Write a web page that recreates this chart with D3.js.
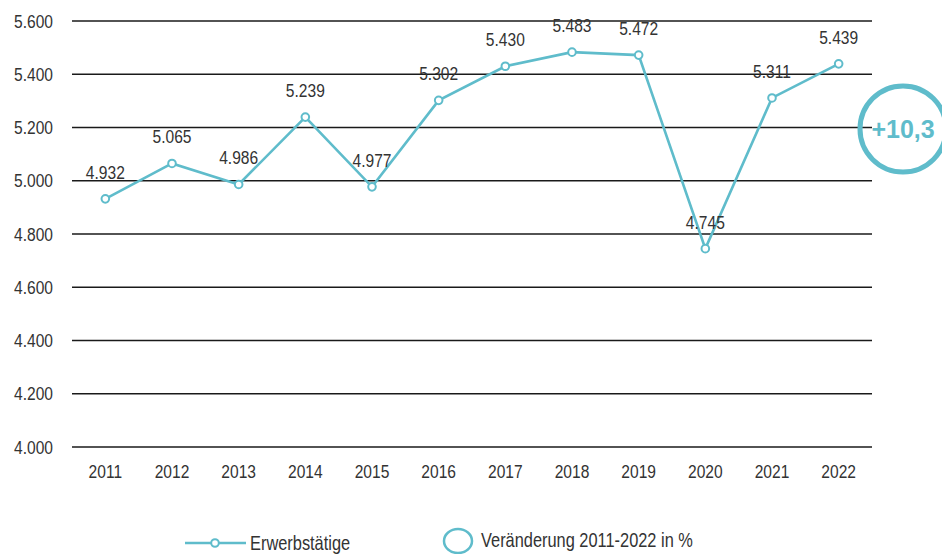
<!DOCTYPE html>
<html>
<head>
<meta charset="utf-8">
<script src="https://cdn.jsdelivr.net/npm/d3@7"></script>
<style>
  body { margin: 0; background: #fff; }
  svg { display: block; font-family: "Liberation Sans", Arial, sans-serif; }
</style>
</head>
<body>
<svg id="chart" width="942" height="554"></svg>
<script>
// Data
const years = ["2011", "2012", "2013", "2014", "2015", "2016", "2017", "2018", "2019", "2020", "2021", "2022"];
const employed = [4932, 5065, 4986, 5239, 4977, 5302, 5430, 5483, 5472, 4745, 5311, 5439];
const yTicks = [4000, 4200, 4400, 4600, 4800, 5000, 5200, 5400, 5600];
const changeLabel = "+10,3";
const legendLabels = ["Erwerbstätige", "Veränderung 2011-2022 in %"];

const TEAL = "#5fbccb";
const NARROW = 0.82; // squeeze to imitate Arial Narrow
const svg = d3.select("#chart");
const margin = { top: 21, right: 70, bottom: 107, left: 72 };
const width = 942 - margin.left - margin.right;
const height = 554 - margin.top - margin.bottom;

const fmt = d3.formatLocale({ decimal: ",", thousands: ".", grouping: [3], currency: ["", "€"] }).format(",d");

const x = d3.scaleBand().domain(years).range([margin.left, margin.left + width]);
const y = d3.scaleLinear().domain([4000, 5600]).range([margin.top + height, margin.top]);
const cx = d => x(d) + x.bandwidth() / 2;

// place a narrow text at (px, py)
const at = (px, py) => `translate(${px},${py}) scale(${NARROW},1)`;

// Gridlines + y labels
const grid = svg.append("g");
grid.selectAll("line")
  .data(yTicks)
  .join("line")
  .attr("x1", margin.left)
  .attr("x2", margin.left + width)
  .attr("y1", d => y(d))
  .attr("y2", d => y(d))
  .attr("stroke", "#1a1a1a")
  .attr("stroke-width", 1.3);

grid.selectAll("text")
  .data(yTicks)
  .join("text")
  .attr("transform", d => at(53, y(d)))
  .attr("dy", "0.35em")
  .attr("text-anchor", "end")
  .attr("font-size", 19)
  .attr("fill", "#333")
  .text(d => fmt(d));

// X labels
svg.append("g").selectAll("text")
  .data(years)
  .join("text")
  .attr("transform", d => at(cx(d), margin.top + height + 31))
  .attr("text-anchor", "middle")
  .attr("font-size", 19)
  .attr("fill", "#333")
  .text(d => d);

// Line
const pts = years.map((yr, i) => ({ yr, v: employed[i] }));
const line = d3.line().x(d => cx(d.yr)).y(d => y(d.v));

svg.append("path")
  .datum(pts)
  .attr("d", line)
  .attr("fill", "none")
  .attr("stroke", TEAL)
  .attr("stroke-width", 2.6);

svg.append("g").selectAll("circle")
  .data(pts)
  .join("circle")
  .attr("cx", d => cx(d.yr))
  .attr("cy", d => y(d.v))
  .attr("r", 3.8)
  .attr("fill", "#fff")
  .attr("stroke", TEAL)
  .attr("stroke-width", 2);

// Value labels
svg.append("g").selectAll("text")
  .data(pts)
  .join("text")
  .attr("transform", d => at(cx(d.yr), y(d.v) - 20))
  .attr("text-anchor", "middle")
  .attr("font-size", 19)
  .attr("fill", "#333")
  .text(d => fmt(d.v));

// Change bubble
const bubble = svg.append("g").attr("transform", "translate(903,129)");
bubble.append("circle")
  .attr("r", 43)
  .attr("fill", "none")
  .attr("stroke", TEAL)
  .attr("stroke-width", 5);
bubble.append("text")
  .attr("x", 0)
  .attr("dy", "0.35em")
  .attr("text-anchor", "middle")
  .attr("font-size", 25)
  .attr("font-weight", "bold")
  .attr("fill", TEAL)
  .text(changeLabel);

// Legend
const leg = svg.append("g");
leg.append("line")
  .attr("x1", 185).attr("x2", 246)
  .attr("y1", 543).attr("y2", 543)
  .attr("stroke", TEAL).attr("stroke-width", 2.6);
leg.append("circle")
  .attr("cx", 215).attr("cy", 543).attr("r", 3.8)
  .attr("fill", "#fff").attr("stroke", TEAL).attr("stroke-width", 2);
leg.append("text")
  .attr("transform", at(250, 543))
  .attr("dy", "0.35em")
  .attr("font-size", 20).attr("fill", "#333")
  .text(legendLabels[0]);

leg.append("ellipse")
  .attr("cx", 458).attr("cy", 541).attr("rx", 14).attr("ry", 12)
  .attr("fill", "none").attr("stroke", TEAL).attr("stroke-width", 2.5);
leg.append("text")
  .attr("transform", at(481, 540))
  .attr("dy", "0.35em")
  .attr("font-size", 20).attr("fill", "#333")
  .text(legendLabels[1]);
</script>
</body>
</html>
